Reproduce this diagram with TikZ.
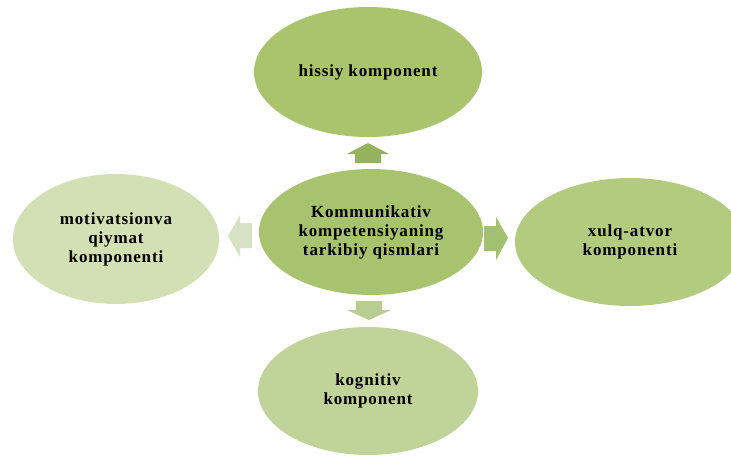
\documentclass[tikz,border=0pt]{standalone}
\usepackage{fontspec}
\setmainfont{Liberation Serif}[LetterSpace=5]
\usetikzlibrary{shapes.geometric}
\begin{document}
\begin{tikzpicture}[x=1pt,y=-1pt,
  comp/.style={ellipse,inner sep=0pt,align=center,font=\fontsize{17}{19}\selectfont\bfseries}]
\useasboundingbox (0,0) rectangle (731,456);
\clip (0,0) rectangle (731,456);
\definecolor{cTop}{RGB}{169,196,108}
\definecolor{cMid}{RGB}{168,195,109}
\definecolor{cRight}{RGB}{178,203,127}
\definecolor{cBot}{RGB}{192,212,154}
\definecolor{cLeft}{RGB}{210,224,180}
\definecolor{aUp}{RGB}{148,179,92}
\definecolor{aRight}{RGB}{163,191,112}
\definecolor{aDown}{RGB}{184,205,146}
\definecolor{aLeft}{RGB}{214,226,195}
\node[comp,fill=cTop,minimum width=228pt,minimum height=130pt] (top) at (368,72) {hissiy komponent};
\node[comp,fill=cMid,minimum width=224pt,minimum height=126pt] (mid) at (371,232) {Kommunikativ\\kompetensiyaning\\tarkibiy qismlari};
\node[comp,fill=cRight,minimum width=230pt,minimum height=128pt] (right) at (630,242) {xulq-atvor\\komponenti};
\node[comp,fill=cBot,minimum width=220pt,minimum height=128pt] (bot) at (368,391) {kognitiv\\komponent};
\node[comp,fill=cLeft,minimum width=206pt,minimum height=130pt] (left) at (116,239) {motivatsionva\\qiymat\\komponenti};
% block arrows
\fill[aUp] (355,163) -- (355,154) -- (347,154) -- (368,143) -- (389,154) -- (381,154) -- (381,163) -- cycle;
\fill[aRight] (484,226) -- (496,226) -- (496,217) -- (508,238) -- (496,260) -- (496,251) -- (484,251) -- cycle;
\fill[aDown] (356,301) -- (382,301) -- (382,310) -- (391,310) -- (369,320) -- (347,310) -- (356,310) -- cycle;
\fill[aLeft] (252,223) -- (240,223) -- (240,215) -- (228,236) -- (240,257) -- (240,248) -- (252,248) -- cycle;
\end{tikzpicture}
\end{document}
